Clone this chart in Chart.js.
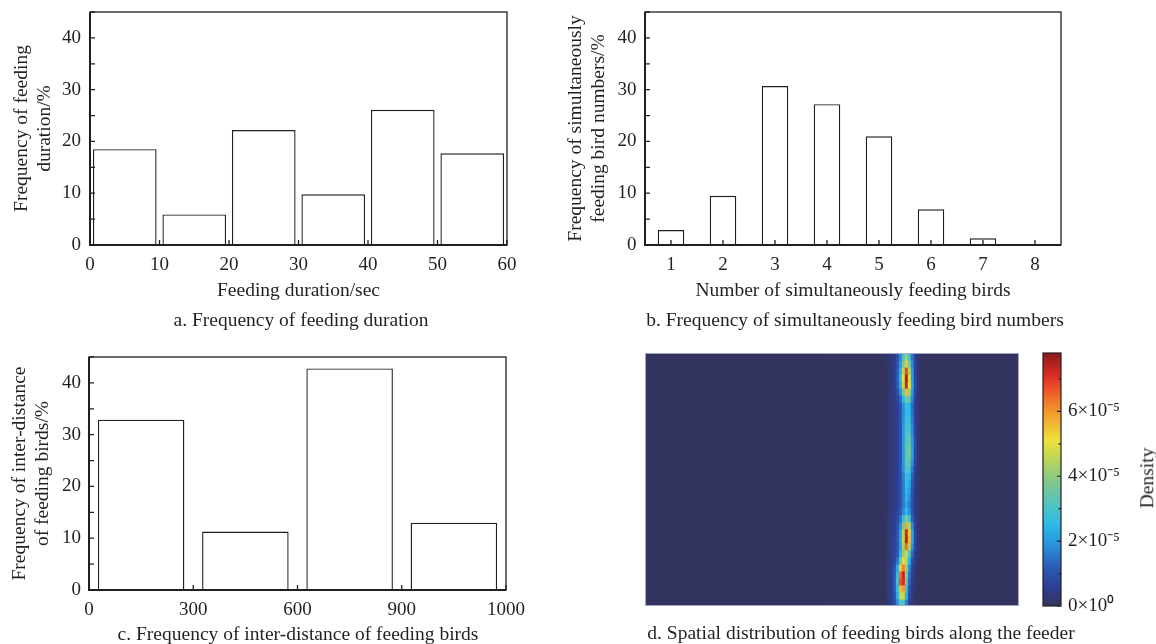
<!DOCTYPE html>
<html>
<head>
<meta charset="utf-8">
<script src="https://cdn.jsdelivr.net/npm/chart.js@4.4.1/dist/chart.umd.min.js"></script>
<style>
html,body{margin:0;padding:0;background:#fff;}
body{width:1156px;height:644px;position:relative;overflow:hidden;font-family:"Liberation Serif","Times New Roman",serif;color:#231f20;}
canvas{position:absolute;}
.cap{position:absolute;font-size:19.5px;white-space:nowrap;transform:translate(-50%,-50%);line-height:1;}
#dens{position:absolute;font-size:19.5px;white-space:nowrap;line-height:1;transform:translate(-50%,-50%) rotate(-90deg);}
</style>
</head>
<body>
<canvas id="ca" width="560" height="310" style="left:0;top:0"></canvas>
<canvas id="cb" width="601" height="310" style="left:555px;top:0"></canvas>
<canvas id="cc" width="560" height="309" style="left:0;top:335px"></canvas>
<canvas id="cd" width="475" height="309" style="left:555px;top:335px"></canvas>
<canvas id="ce" width="126" height="309" style="left:1030px;top:335px"></canvas>
<div class="cap" style="left:301px;top:320px">a. Frequency of feeding duration</div>
<div class="cap" style="left:855px;top:320px">b. Frequency of simultaneously feeding bird numbers</div>
<div class="cap" style="left:298px;top:634px">c. Frequency of inter-distance of feeding birds</div>
<div class="cap" style="left:861px;top:633px">d. Spatial distribution of feeding birds along the feeder</div>
<div id="dens" style="left:1147px;top:478px">Density</div>
<script>
// ---------------- data ----------------
// a. feeding duration (bin centres, seconds) and frequency (%)
const durationBins = [5, 15, 25, 35, 45, 55];
const durationFreq = [18.5, 5.9, 22.2, 9.8, 26.1, 17.7];
// b. number of simultaneously feeding birds
const birdCats = ['1', '2', '3', '4', '5', '6', '7', '8'];
const birdFreq = [2.9, 9.5, 30.7, 27.2, 21.0, 6.9, 1.3, 0.2];
// c. inter-distance (bins on an index axis) and frequency (%)
const distTickLabels = ['0', '300', '600', '900', '1000'];
const distBins = [0.5, 1.5, 2.5, 3.5];
const distFreq = [32.9, 11.3, 42.8, 13.0];
// d. density map (units of 1e-5), rows from top to bottom, stripe columns only
const heatCols = 125;
const stripeStartCol = 81;
const stripeDensity = [
  [0.2,0.3,0.5,0.9,1.7,3.0,4.2,2.9,1.5,0.6,0.2,0],
  [0.2,0.3,0.5,1.0,2.0,3.7,5.4,3.6,1.8,0.7,0.2,0],
  [0.2,0.3,0.6,1.1,2.3,4.5,6.8,4.4,2.0,0.7,0.2,0],
  [0.2,0.3,0.6,1.2,2.5,5.0,7.5,4.9,2.1,0.7,0.2,0],
  [0.2,0.3,0.6,1.1,2.3,4.7,7.3,5.1,2.2,0.8,0.2,0],
  [0.2,0.3,0.5,0.9,1.8,3.6,5.6,4.2,2.0,0.7,0.2,0],
  [0.2,0.3,0.4,0.7,1.3,2.5,3.8,3.3,1.7,0.6,0.2,0],
  [0.2,0.3,0.4,0.6,1.1,1.9,2.7,2.5,1.4,0.5,0.2,0],
  [0.2,0.3,0.4,0.6,1.0,1.8,2.6,2.5,1.5,0.6,0.2,0],
  [0.2,0.3,0.4,0.6,1.0,1.9,2.8,2.7,1.6,0.6,0.2,0],
  [0.2,0.3,0.4,0.6,1.0,2.0,2.9,2.9,1.7,0.7,0.2,0],
  [0.2,0.3,0.4,0.6,1.0,2.0,3.1,3.1,1.8,0.7,0.2,0],
  [0.2,0.3,0.4,0.6,1.0,2.0,3.2,3.4,2.0,0.8,0.2,0],
  [0.2,0.3,0.4,0.6,1.0,2.0,3.3,3.6,2.1,0.8,0.2,0],
  [0.2,0.3,0.4,0.6,1.0,2.0,3.4,3.6,2.1,0.8,0.2,0],
  [0.2,0.3,0.4,0.6,1.0,2.0,3.4,3.3,1.9,0.7,0.2,0],
  [0.2,0.3,0.4,0.6,1.0,1.9,3.1,2.9,1.6,0.6,0.2,0],
  [0.2,0.3,0.4,0.6,0.9,1.7,2.7,2.5,1.3,0.5,0.2,0],
  [0.2,0.3,0.4,0.6,0.9,1.6,2.6,2.3,1.2,0.5,0.2,0],
  [0.2,0.3,0.4,0.6,0.9,1.6,2.5,2.1,1.1,0.4,0.2,0],
  [0.2,0.3,0.4,0.6,0.9,1.6,2.4,1.9,1.0,0.4,0.2,0],
  [0.2,0.3,0.4,0.6,1.0,1.6,2.2,1.7,0.9,0.4,0.2,0],
  [0.2,0.4,0.5,0.7,1.1,1.8,2.5,1.9,1.0,0.4,0.2,0],
  [0.3,0.4,0.6,0.8,1.4,2.6,3.9,2.9,1.3,0.5,0.2,0],
  [0.3,0.4,0.6,0.9,1.8,3.7,5.8,4.3,1.8,0.6,0.2,0],
  [0.3,0.4,0.6,1.0,2.1,4.5,7.2,5.4,2.2,0.7,0.2,0],
  [0.3,0.5,0.7,1.0,2.1,4.6,7.4,5.6,2.3,0.7,0.2,0],
  [0.3,0.5,0.7,1.0,2.1,4.3,6.4,4.5,1.9,0.6,0.2,0],
  [0.3,0.5,0.7,1.1,2.4,4.1,4.7,3.2,1.4,0.5,0.2,0],
  [0.3,0.5,0.8,1.5,3.3,5.0,4.5,2.4,1.0,0.4,0,0],
  [0.4,0.6,1.0,2.2,4.8,6.2,4.2,1.8,0.7,0.3,0,0],
  [0.4,0.6,1.1,2.7,6.4,7.3,3.9,1.5,0.6,0.2,0,0],
  [0.4,0.6,1.1,2.8,6.7,7.1,3.5,1.3,0.5,0.2,0,0],
  [0.4,0.6,1.1,2.6,5.6,5.9,3.0,1.1,0.4,0.2,0,0],
  [0.4,0.6,1.0,2.3,4.6,4.7,2.4,0.9,0.4,0,0,0],
  [0.3,0.5,0.9,1.8,3.1,3.1,1.7,0.7,0.3,0,0,0]
];
// colour bar
const cbMax = 7.8;
const cbTickValues = [0, 2, 4, 6];
const cbTickLabels = ['0×10⁰', '2×10⁻⁵', '4×10⁻⁵', '6×10⁻⁵'];

// ---------------- styles ----------------
const INK = '#231f20';
const FONT = '"Liberation Serif","Times New Roman",serif';
Chart.defaults.font.family = FONT;
Chart.defaults.color = INK;
Chart.defaults.animation = false;
Chart.defaults.plugins.legend.display = false;
Chart.defaults.plugins.tooltip.enabled = false;

const cmap = [
  [0, '#33345f'], [0.6, '#2d3f94'], [1.2, '#2a5cb6'], [1.9, '#2a93dc'],
  [2.5, '#2cb9e9'], [3.1, '#52c3c3'], [3.8, '#7fc88f'], [4.5, '#b8d45a'],
  [5.1, '#ece23a'], [5.9, '#f5a02e'], [6.6, '#ef5a2a'], [7.1, '#dd2c26'], [7.8, '#8a1a1a']
];
function hexRgb(h) { return [1, 3, 5].map(i => parseInt(h.substr(i, 2), 16)); }
function colorFor(v) {
  if (v <= cmap[0][0]) return cmap[0][1];
  for (let i = 1; i < cmap.length; i++) {
    if (v <= cmap[i][0]) {
      const [v0, c0] = cmap[i - 1], [v1, c1] = cmap[i];
      const t = (v - v0) / (v1 - v0);
      const a = hexRgb(c0), b = hexRgb(c1);
      return 'rgb(' + a.map((x, k) => Math.round(x + (b[k] - x) * t)).join(',') + ')';
    }
  }
  return cmap[cmap.length - 1][1];
}

// frame + inward tick marks
function framePlugin() {
  return {
    id: 'frame',
    afterDraw(chart) {
      const { ctx, chartArea: a, scales } = chart;
      ctx.save();
      ctx.strokeStyle = INK;
      ctx.lineWidth = 1.3;
      ctx.strokeRect(a.left, a.top, a.right - a.left, a.bottom - a.top);
      ctx.lineWidth = 2;
      ctx.beginPath();
      ctx.moveTo(a.left, a.top);
      ctx.lineTo(a.left, a.bottom);
      ctx.lineTo(a.right, a.bottom);
      ctx.stroke();
      ctx.lineWidth = 1.3;
      ctx.beginPath();
      const ys = scales.y;
      ys.ticks.forEach((t, i) => {
        const p = ys.getPixelForTick(i);
        ctx.moveTo(a.left, p); ctx.lineTo(a.left + 5, p);
      });
      const xs = scales.x;
      xs.ticks.forEach((t, i) => {
        const p = xs.getPixelForTick(i);
        ctx.moveTo(p, a.bottom); ctx.lineTo(p, a.bottom - 5);
      });
      ctx.stroke();
      ctx.restore();
    }
  };
}

function yScale(titleLines, titlePad, width, tickPad) {
  return {
    min: 0, max: 45,
    grid: { display: false, drawTicks: false },
    border: { display: false },
    ticks: { stepSize: 5, padding: tickPad, font: { size: 19 }, callback: v => (v % 10 === 0 ? String(v) : '') },
    title: { display: true, text: titleLines, font: { size: 19.5, lineHeight: 1.18 }, padding: { top: titlePad, bottom: 0 } },
    afterFit: s => { s.width = width; s.paddingTop = 0; s.paddingBottom = 0; }
  };
}
function fitX(h) {
  return s => { s.height = h; s.paddingLeft = 0; s.paddingRight = 0; };
}
const barStyle = { backgroundColor: '#ffffff', borderColor: INK, borderWidth: 1.4 };

// ---------------- a ----------------
new Chart(document.getElementById('ca'), {
  type: 'bar',
  data: { datasets: [Object.assign({ data: durationBins.map((x, i) => ({ x, y: durationFreq[i] })), barPercentage: 0.916, categoryPercentage: 1 }, barStyle)] },
  options: {
    responsive: false,
    layout: { padding: { left: 0, right: 53, top: 12, bottom: 7 } },
    scales: {
      x: {
        type: 'linear', min: 0, max: 60, offset: false,
        grid: { display: false, drawTicks: false }, border: { display: false },
        ticks: { stepSize: 10, padding: 9, font: { size: 19 }, maxRotation: 0, autoSkip: false },
        title: { display: true, text: 'Feeding duration/sec', font: { size: 19.5 }, padding: { top: 0, bottom: 0 } },
        afterFit: fitX(58)
      },
      y: yScale(['Frequency of feeding', 'duration/%'], 10, 90, 9)
    }
  },
  plugins: [framePlugin()]
});

// ---------------- b ----------------
new Chart(document.getElementById('cb'), {
  type: 'bar',
  data: { labels: birdCats, datasets: [Object.assign({ data: birdFreq, barPercentage: 0.51, categoryPercentage: 1 }, barStyle)] },
  options: {
    responsive: false,
    layout: { padding: { left: 0, right: 95, top: 12, bottom: 7 } },
    scales: {
      x: {
        grid: { display: false, drawTicks: false }, border: { display: false },
        ticks: { padding: 9, font: { size: 19 }, maxRotation: 0, autoSkip: false },
        title: { display: true, text: 'Number of simultaneously feeding birds', font: { size: 19.5 }, padding: { top: 0, bottom: 0 } },
        afterFit: fitX(58)
      },
      y: yScale(['Frequency of simultaneously', 'feeding bird numbers/%'], 9, 90, 8.5)
    }
  },
  plugins: [framePlugin()]
});

// ---------------- c ----------------
new Chart(document.getElementById('cc'), {
  type: 'bar',
  data: { datasets: [Object.assign({ data: distBins.map((x, i) => ({ x, y: distFreq[i] })), barPercentage: 0.83, categoryPercentage: 1 }, barStyle)] },
  options: {
    responsive: false,
    layout: { padding: { left: 0, right: 54, top: 22, bottom: 14 } },
    scales: {
      x: {
        type: 'linear', min: 0, max: distTickLabels.length - 1, offset: false,
        grid: { display: false, drawTicks: false }, border: { display: false },
        ticks: { stepSize: 1, padding: 9, font: { size: 19 }, maxRotation: 0, autoSkip: false, callback: (v, i) => distTickLabels[i] },
        afterFit: fitX(40)
      },
      y: yScale(['Frequency of inter-distance', 'of feeding birds/%'], 8, 89, 8)
    }
  },
  plugins: [framePlugin()]
});

// ---------------- d (density map) ----------------
const heatRows = stripeDensity.length;
const colLabels = Array.from({ length: heatCols }, (_, i) => i);
const heatDatasets = stripeDensity.map((row, r) => ({
  data: colLabels.map(() => [r, r + 1]),
  backgroundColor: colLabels.map(c => {
    const k = c - stripeStartCol;
    return colorFor(k >= 0 && k < row.length ? row[k] : 0);
  }),
  borderWidth: 0, barPercentage: 1, categoryPercentage: 1, grouped: false, inflateAmount: 0.5
}));
new Chart(document.getElementById('cd'), {
  type: 'bar',
  data: { labels: colLabels, datasets: heatDatasets },
  options: {
    responsive: false,
    layout: { padding: { left: 90, right: 11, top: 18, bottom: 38 } },
    scales: {
      x: { display: false },
      y: { display: false, reverse: true, min: 0, max: heatRows }
    }
  },
  plugins: [{
    id: 'bg',
    beforeDatasetsDraw(chart) {
      const { ctx, chartArea: a } = chart;
      ctx.save(); ctx.fillStyle = colorFor(0);
      ctx.fillRect(a.left, a.top, a.right - a.left, a.bottom - a.top); ctx.restore();
    },
    afterDraw(chart) {
      const { ctx, chartArea: a } = chart;
      ctx.save(); ctx.strokeStyle = 'rgba(175,175,205,0.9)'; ctx.lineWidth = 1;
      ctx.strokeRect(a.left + 0.5, a.top + 0.5, a.right - a.left - 1, a.bottom - a.top - 1); ctx.restore();
    }
  }]
});

// ---------------- colour bar ----------------
new Chart(document.getElementById('ce'), {
  type: 'bar',
  data: {
    labels: ['Density'],
    datasets: [{
      data: [[0, cbMax]],
      backgroundColor: (c) => {
        const ch = c.chart;
        if (!ch.chartArea) return colorFor(0);
        const ys = ch.scales.y;
        const g = ch.ctx.createLinearGradient(0, ys.getPixelForValue(0), 0, ys.getPixelForValue(cbMax));
        cmap.forEach(([v, col]) => g.addColorStop(v / cbMax, col));
        return g;
      },
      borderWidth: 0, barPercentage: 1, categoryPercentage: 1
    }]
  },
  options: {
    responsive: false,
    layout: { padding: { left: 13, right: 0, top: 18, bottom: 38 } },
    scales: {
      x: { display: false },
      y: {
        position: 'right', min: 0, max: cbMax,
        grid: { display: false, drawTicks: false }, border: { display: false },
        ticks: { stepSize: 1, padding: 7, font: { size: 19 }, autoSkip: false,
          callback: v => { const i = cbTickValues.indexOf(v); return i >= 0 ? cbTickLabels[i] : ''; } },
        afterFit: s => { s.width = 95; s.paddingTop = 0; s.paddingBottom = 0; }
      }
    }
  },
  plugins: [{
    id: 'cbframe',
    afterDraw(chart) {
      const { ctx, chartArea: a, scales } = chart;
      ctx.save();
      ctx.strokeStyle = INK; ctx.lineWidth = 1.2;
      ctx.strokeRect(a.left, a.top, a.right - a.left, a.bottom - a.top);
      ctx.beginPath();
      scales.y.ticks.forEach((t, i) => {
        if (!Number.isInteger(t.value)) return;
        const p = scales.y.getPixelForTick(i);
        const len = cbTickValues.includes(t.value) ? 4 : 2.5;
        ctx.moveTo(a.right, p); ctx.lineTo(a.right - len, p);
      });
      ctx.stroke();
      ctx.restore();
    }
  }]
});
</script>
</body>
</html>
